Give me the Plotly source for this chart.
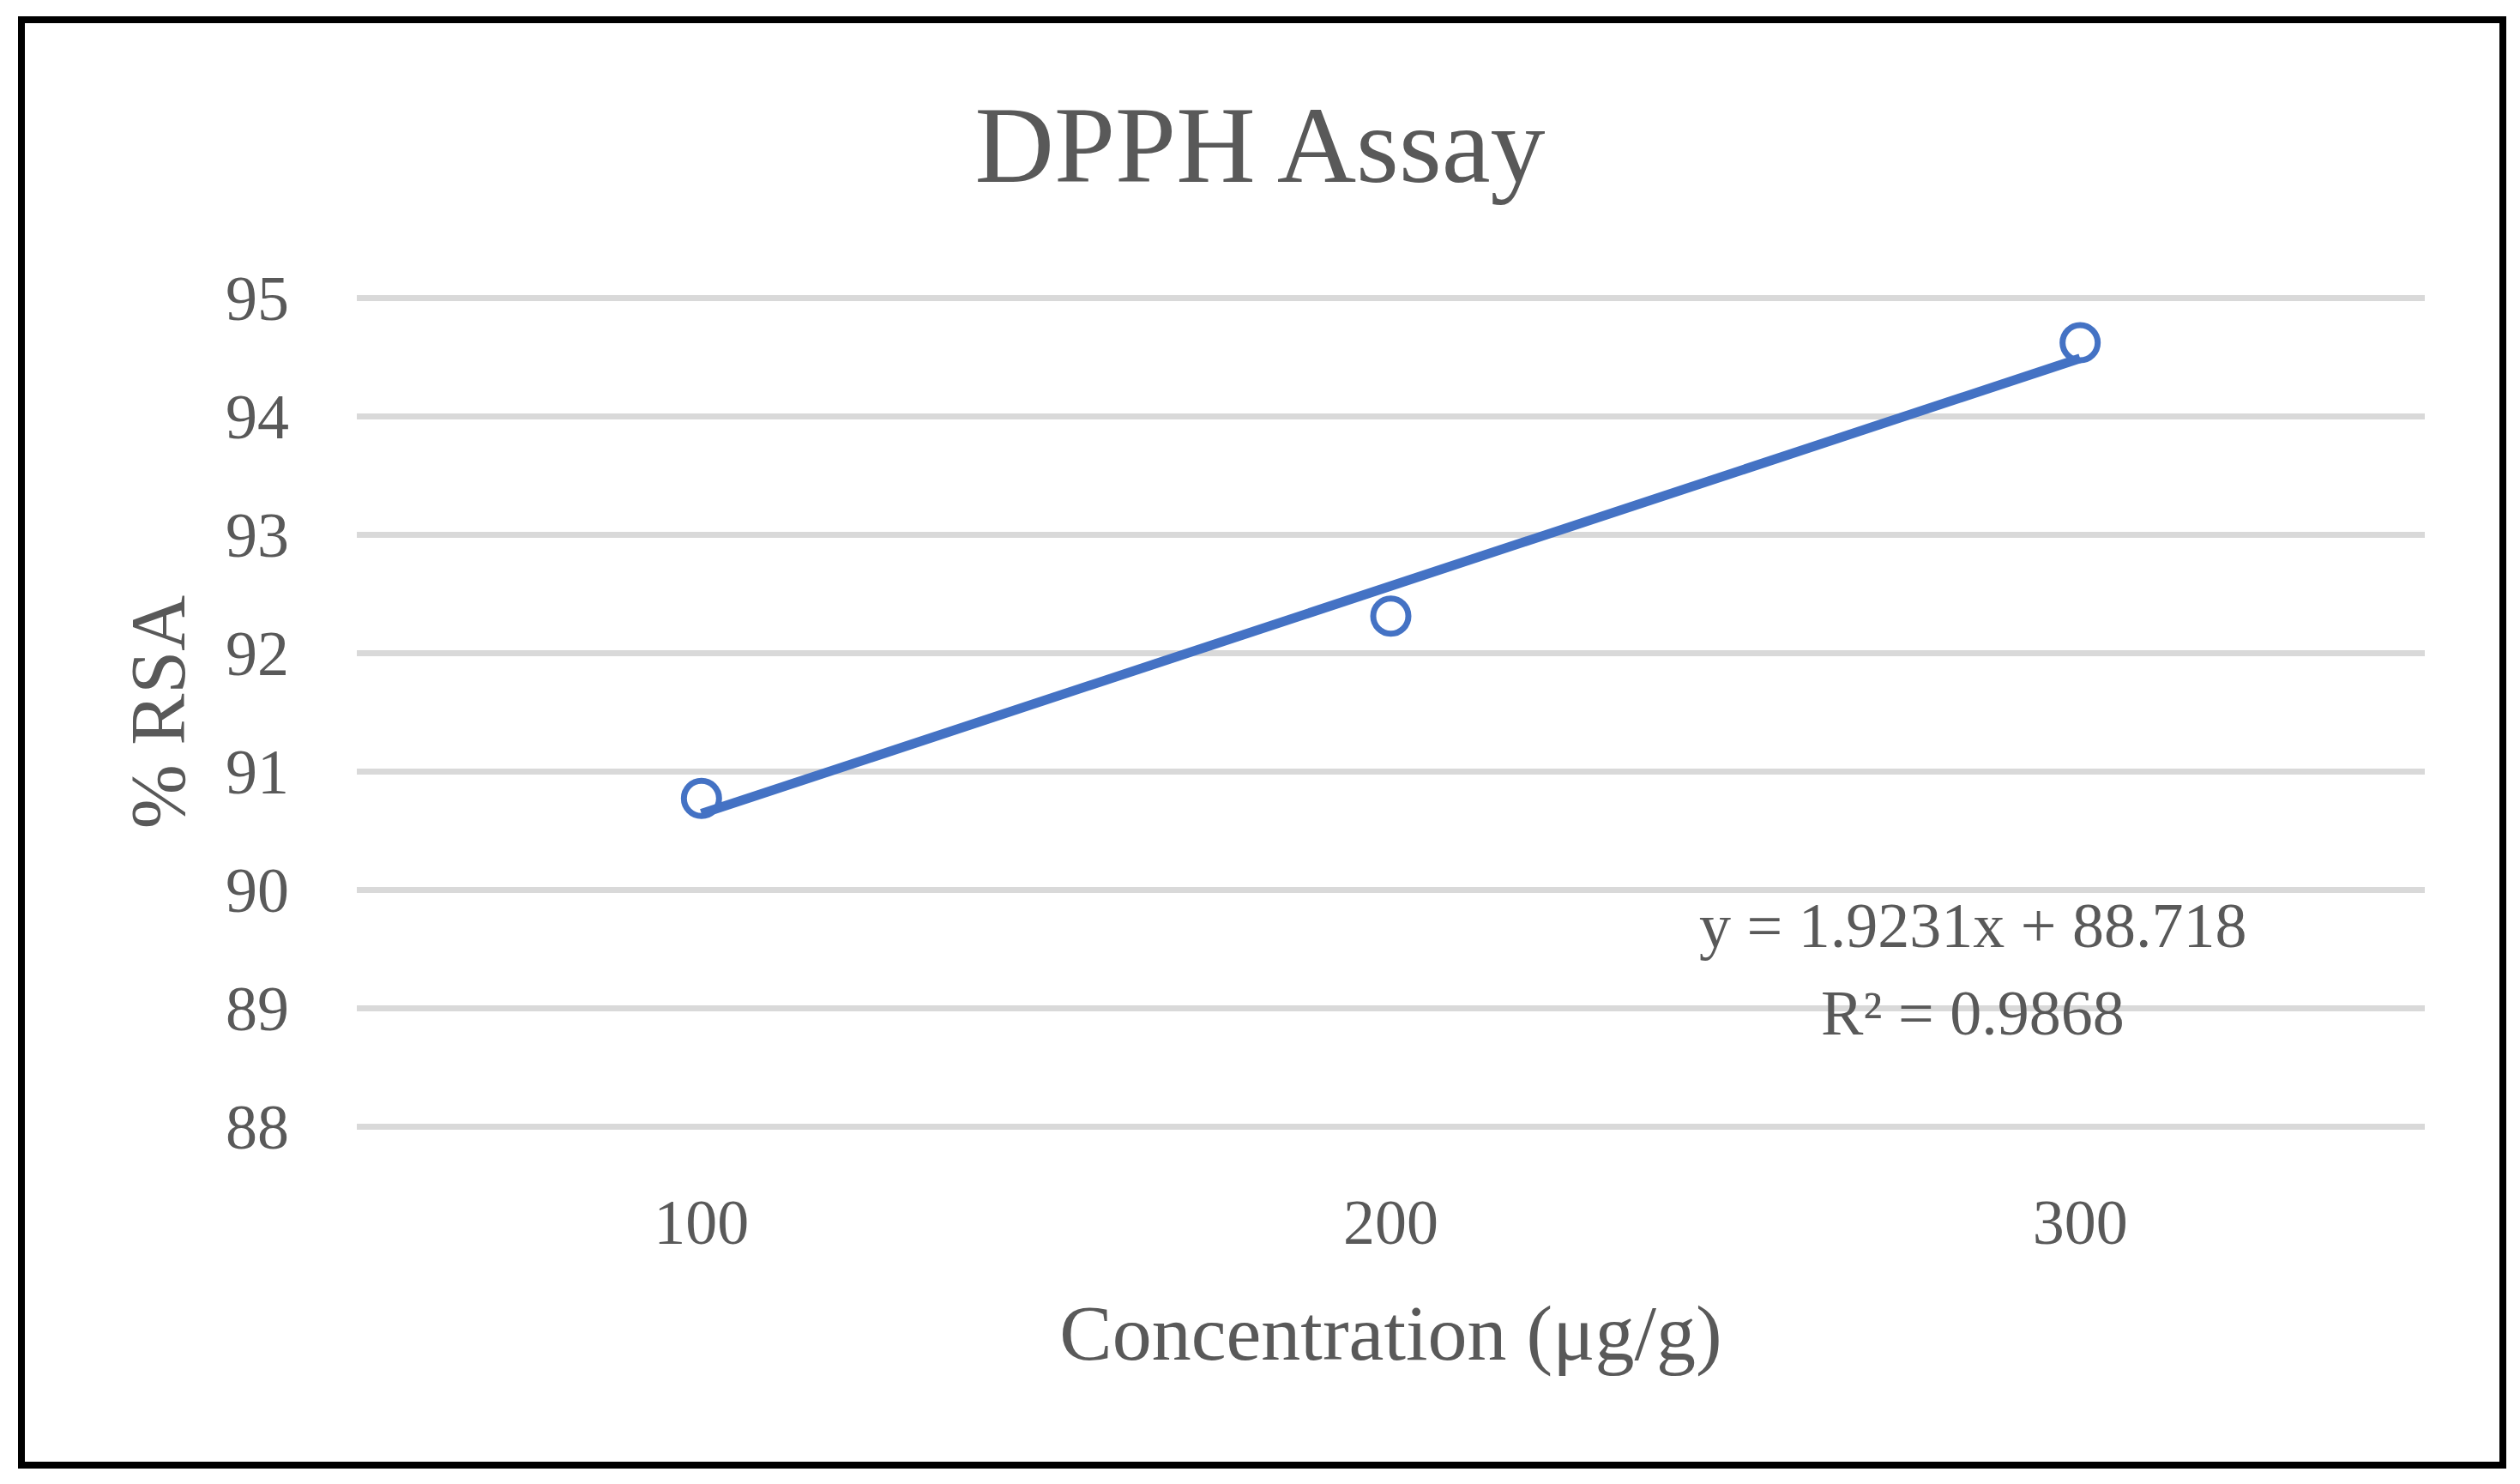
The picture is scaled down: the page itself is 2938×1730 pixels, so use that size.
import plotly.graph_objects as go

# ---- data ----
concentration = [100, 200, 300]
rsa = [90.77, 92.31, 94.62]
trend_slope = 1.9231
trend_intercept = 88.718
r_squared = 0.9868
x_ticks = [100, 200, 300]
y_ticks = [88, 89, 90, 91, 92, 93, 94, 95]

# trendline (Excel linear trend on point index 1..n)
trend_y = [trend_slope * (i + 1) + trend_intercept for i in range(len(concentration))]

W, H = 2938, 1730
PXU = 138.0          # pixels per y unit
EPS = 4 / PXU        # small range padding so edge gridlines are drawn
L, R = 416, 2827
T, B = 347 - 4, 1313 + 4
FONT = "Liberation Serif"
GREY = "#595959"
BLUE = "#4472C4"


def px(xp):
    return (xp - L) / (R - L)


def py(yp):
    return (B - yp) / (B - T)


fig = go.Figure()
fig.add_trace(go.Scatter(
    x=concentration, y=rsa, mode="markers",
    marker=dict(symbol="circle-open", size=41, color=BLUE, line=dict(width=7, color=BLUE)),
    showlegend=False, hoverinfo="skip",
))
fig.add_trace(go.Scatter(
    x=concentration, y=trend_y, mode="lines",
    line=dict(color=BLUE, width=11),
    showlegend=False, hoverinfo="skip",
))

fig.update_layout(
    width=W, height=H,
    margin=dict(l=L, r=W - R, t=T, b=H - B, pad=0),
    paper_bgcolor="white", plot_bgcolor="white",
    font=dict(family=FONT, color=GREY, size=74),
    title=dict(text="DPPH Assay", x=1469 / W, xanchor="center", xref="container",
               y=1 - 167 / H, yanchor="middle", yref="container",
               font=dict(family=FONT, size=128, color=GREY)),
    xaxis=dict(range=[50, 350], tickvals=x_ticks, ticktext=[str(v) for v in x_ticks],
               showgrid=False, zeroline=False, showline=False, ticks="",
               tickfont=dict(family=FONT, size=74, color=GREY), ticklabelstandoff=58,
               title=dict(text="Concentration (μg/g)", standoff=55,
                          font=dict(family=FONT, size=92, color=GREY))),
    yaxis=dict(range=[88 - EPS, 95 + EPS], tickvals=y_ticks, ticktext=[str(v) for v in y_ticks],
               showgrid=True, gridcolor="#D9D9D9", gridwidth=7, zeroline=False,
               showline=False, ticks="",
               tickfont=dict(family=FONT, size=74, color=GREY), ticklabelstandoff=78,
               title=dict(text="% RSA", standoff=17,
                          font=dict(family=FONT, size=90, color=GREY))),
)

fig.add_annotation(text=f"y = {trend_slope}x + {trend_intercept}", xref="paper", yref="paper",
                   x=px(2300), y=py(1079), xanchor="center", yanchor="middle", showarrow=False,
                   font=dict(family=FONT, size=74, color=GREY))
fig.add_annotation(text=f"R² = {r_squared}", xref="paper", yref="paper",
                   x=px(2300), y=py(1181), xanchor="center", yanchor="middle", showarrow=False,
                   font=dict(family=FONT, size=74, color=GREY))

fig.add_shape(type="rect", xref="paper", yref="paper",
              x0=px(25), x1=px(2918), y0=py(1708), y1=py(23),
              line=dict(color="black", width=8), fillcolor="rgba(0,0,0,0)", layer="above")

fig.write_html("out.html", config={"displayModeBar": False},
               post_script="document.body.style.margin='0';")
